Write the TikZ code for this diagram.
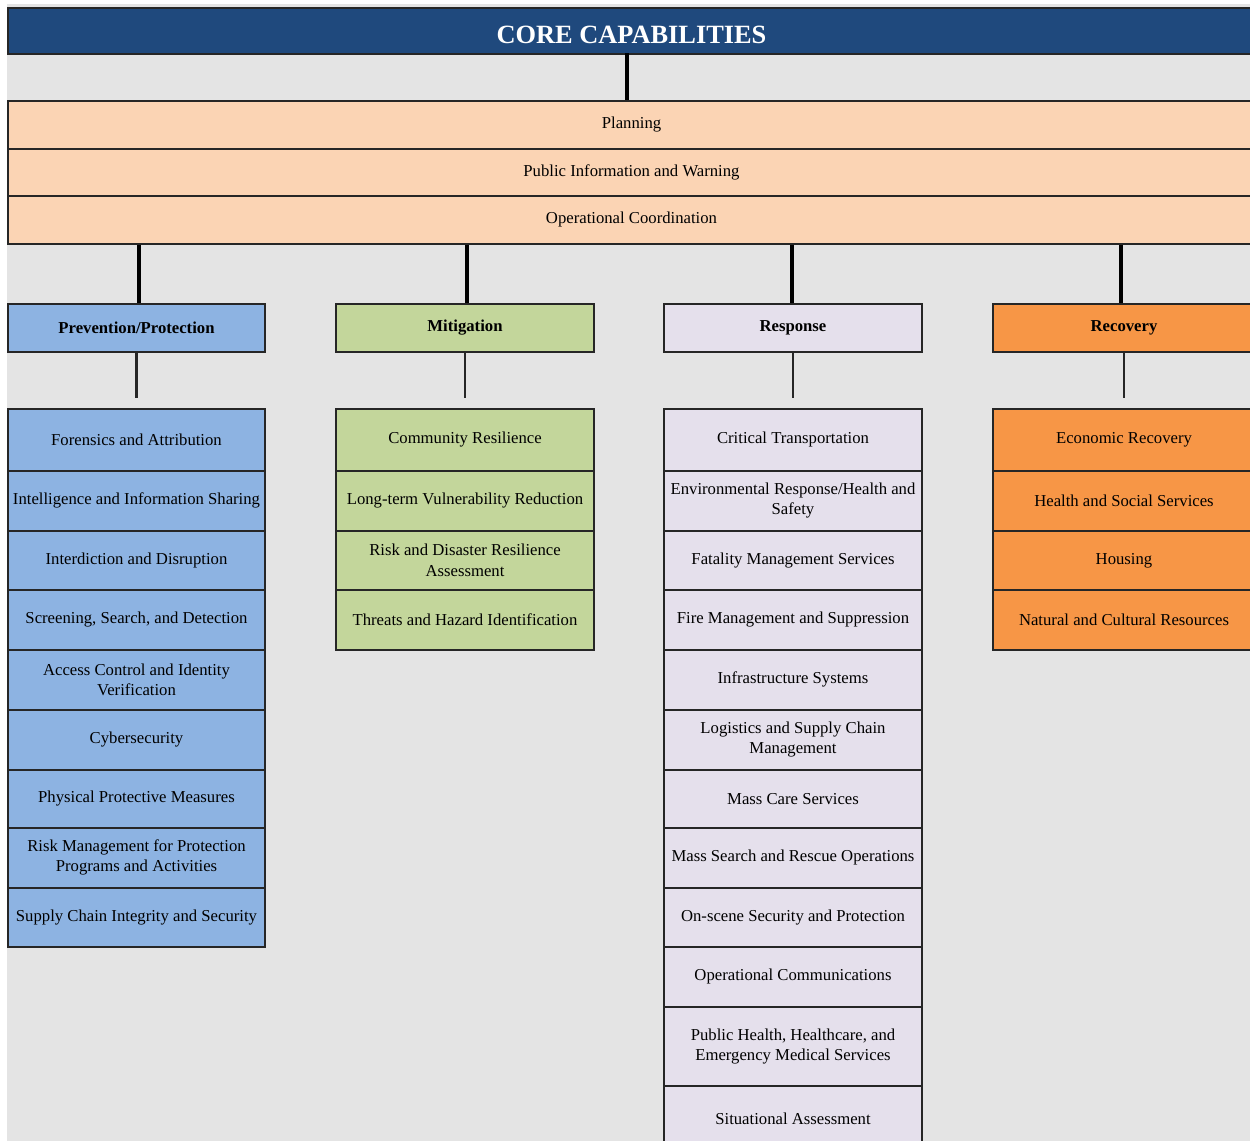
\documentclass[tikz,border=0pt]{standalone}
\usepackage{fontspec}
\setmainfont{Liberation Serif}
\usetikzlibrary{calc}
\definecolor{bggray}{HTML}{E4E4E4}
\definecolor{titleblue}{HTML}{1F497D}
\definecolor{peach}{HTML}{FBD4B4}
\definecolor{prevblue}{HTML}{8DB3E2}
\definecolor{mitgreen}{HTML}{C3D69B}
\definecolor{resplav}{HTML}{E5E0EC}
\definecolor{recorange}{HTML}{F79646}
\tikzset{
  box/.style={draw=black!85, line width=0.9pt, inner sep=0pt, align=center, anchor=north,
    font=\fontsize{9.5}{11.5}\selectfont},
  titlebox/.style={box, fill=titleblue, text=white, font=\fontsize{15}{16}\selectfont\bfseries},
  peachbox/.style={box, fill=peach, minimum width=24.94cm},
  catbox/.style={font=\fontsize{9.5}{11.5}\selectfont\bfseries, minimum height=0.96cm},
  pcol/.style={box, fill=prevblue, minimum width=5.14cm},
  mcol/.style={box, fill=mitgreen, minimum width=5.16cm},
  rcol/.style={box, fill=resplav, minimum width=5.16cm},
  ccol/.style={box, fill=recorange, minimum width=5.24cm},
  thickline/.style={line width=2.8pt, black},
  thinline/.style={line width=1.2pt, black!85},
}
\begin{document}
\begin{tikzpicture}
\useasboundingbox (0,0) rectangle (25,-22.8);
\clip (0,0) rectangle (25,-22.8);
\fill[bggray] (0.14,-0.08) rectangle (25.2,-23);

% title
\node[titlebox, minimum width=24.94cm, minimum height=0.92cm] (title) at (12.63,-0.14) {\raisebox{-0.08cm}[\height][\depth]{CORE CAPABILITIES}};

% common rows
\node[peachbox, minimum height=0.96cm] (plan) at (12.63,-2.0) {Planning};
\node[peachbox, minimum height=0.94cm] (pubinfo) at (12.63,-2.96) {Public Information and Warning};
\node[peachbox, minimum height=0.96cm] (opcoord) at (12.63,-3.90) {Operational Coordination};

% categories
\node[pcol, catbox] (prev) at (2.73,-6.06) {Prevention/Protection};
\node[mcol, catbox] (mit) at (9.30,-6.06) {Mitigation};
\node[rcol, catbox] (resp) at (15.86,-6.06) {Response};
\node[ccol, catbox] (rec) at (22.48,-6.06) {Recovery};

% Prevention/Protection items
\node[pcol, minimum height=1.24cm] (p1) at (2.73,-8.16) {Forensics and Attribution};
\node[pcol, minimum height=1.20cm] (p2) at (2.73,-9.40) {Intelligence and Information Sharing};
\node[pcol, minimum height=1.18cm] (p3) at (2.73,-10.60) {Interdiction and Disruption};
\node[pcol, minimum height=1.20cm] (p4) at (2.73,-11.78) {Screening, Search, and Detection};
\node[pcol, minimum height=1.20cm] (p5) at (2.73,-12.98) {Access Control and Identity\\Verification};
\node[pcol, minimum height=1.20cm] (p6) at (2.73,-14.18) {Cybersecurity};
\node[pcol, minimum height=1.16cm] (p7) at (2.73,-15.38) {Physical Protective Measures};
\node[pcol, minimum height=1.20cm] (p8) at (2.73,-16.54) {Risk Management for Protection\\Programs and Activities};
\node[pcol, minimum height=1.18cm] (p9) at (2.73,-17.74) {Supply Chain Integrity and Security};

% Mitigation items
\node[mcol, minimum height=1.24cm] (m1) at (9.30,-8.16) {Community Resilience};
\node[mcol, minimum height=1.20cm] (m2) at (9.30,-9.40) {Long-term Vulnerability Reduction};
\node[mcol, minimum height=1.18cm] (m3) at (9.30,-10.60) {Risk and Disaster Resilience\\Assessment};
\node[mcol, minimum height=1.20cm] (m4) at (9.30,-11.78) {Threats and Hazard Identification};

% Response items
\node[rcol, minimum height=1.24cm] (r1) at (15.86,-8.16) {Critical Transportation};
\node[rcol, minimum height=1.20cm] (r2) at (15.86,-9.40) {Environmental Response/Health and\\Safety};
\node[rcol, minimum height=1.18cm] (r3) at (15.86,-10.60) {Fatality Management Services};
\node[rcol, minimum height=1.20cm] (r4) at (15.86,-11.78) {Fire Management and Suppression};
\node[rcol, minimum height=1.20cm] (r5) at (15.86,-12.98) {Infrastructure Systems};
\node[rcol, minimum height=1.20cm] (r6) at (15.86,-14.18) {Logistics and Supply Chain\\Management};
\node[rcol, minimum height=1.16cm] (r7) at (15.86,-15.38) {Mass Care Services};
\node[rcol, minimum height=1.20cm] (r8) at (15.86,-16.54) {Mass Search and Rescue Operations};
\node[rcol, minimum height=1.18cm] (r9) at (15.86,-17.74) {On-scene Security and Protection};
\node[rcol, minimum height=1.20cm] (r10) at (15.86,-18.92) {Operational Communications};
\node[rcol, minimum height=1.58cm] (r11) at (15.86,-20.12) {Public Health, Healthcare, and\\Emergency Medical Services};
\node[rcol, minimum height=1.30cm] (r12) at (15.86,-21.70) {Situational Assessment};

% Recovery items
\node[ccol, minimum height=1.24cm] (c1) at (22.48,-8.16) {Economic Recovery};
\node[ccol, minimum height=1.20cm] (c2) at (22.48,-9.40) {Health and Social Services};
\node[ccol, minimum height=1.18cm] (c3) at (22.48,-10.60) {Housing};
\node[ccol, minimum height=1.20cm] (c4) at (22.48,-11.78) {Natural and Cultural Resources};

% thick connectors
\coordinate (tconn) at (12.54,-1.06);
\draw[thickline] (tconn) -- (tconn |- plan.north);
\coordinate (pvx) at (2.78,0);
\coordinate (mtx) at (9.34,0);
\coordinate (rsx) at (15.84,0);
\coordinate (rcx) at (22.42,0);
\draw[thickline] (pvx |- opcoord.south) -- (pvx |- prev.north);
\draw[thickline] (mtx |- opcoord.south) -- (mtx |- mit.north);
\draw[thickline] (rsx |- opcoord.south) -- (rsx |- resp.north);
\draw[thickline] (rcx |- opcoord.south) -- (rcx |- rec.north);

% thin connectors
\coordinate (pend) at ($(p1.north)+(0,0.2)$);
\coordinate (mend) at ($(m1.north)+(0,0.2)$);
\coordinate (rend) at ($(r1.north)+(0,0.2)$);
\coordinate (cend) at ($(c1.north)+(0,0.2)$);
\draw[thinline] (prev.south) -- (prev.south |- pend);
\draw[thinline] (mit.south) -- (mit.south |- mend);
\draw[thinline] (resp.south) -- (resp.south |- rend);
\draw[thinline] (rec.south) -- (rec.south |- cend);
\end{tikzpicture}
\end{document}
